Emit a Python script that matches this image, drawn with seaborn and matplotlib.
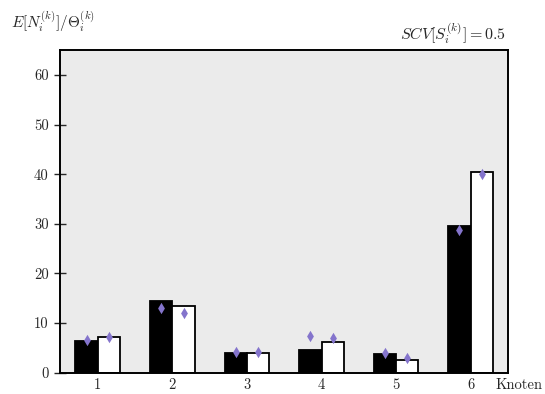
import matplotlib
matplotlib.use("Agg")
import matplotlib.pyplot as plt
import seaborn as sns
import pandas as pd

# Knoten (nodes) and the two compared series
knoten = ["1", "2", "3", "4", "5", "6"]
serien = ["I", "II"]
balken_I = [6.3, 14.5, 4.0, 4.6, 3.8, 29.6]
balken_II = [7.2, 13.5, 4.0, 6.1, 2.6, 40.4]
punkte_I = [6.6, 13.1, 4.2, 7.4, 4.0, 28.8]
punkte_II = [7.1, 12.0, 4.2, 7.0, 2.9, 40.0]
y_ticks = [0, 10, 20, 30, 40, 50, 60]

bars = pd.DataFrame({
    "Knoten": knoten * 2,
    "Serie": [serien[0]] * len(knoten) + [serien[1]] * len(knoten),
    "Wert": balken_I + balken_II,
})
points = pd.DataFrame({
    "Knoten": knoten * 2,
    "Serie": [serien[0]] * len(knoten) + [serien[1]] * len(knoten),
    "Wert": punkte_I + punkte_II,
})

sns.set_style("white")
plt.rcParams["font.family"] = ["cmr10", "DejaVu Serif"]
plt.rcParams["mathtext.fontset"] = "cm"
plt.rcParams["axes.formatter.use_mathtext"] = True
plt.rcParams["axes.unicode_minus"] = False

fig = plt.figure(figsize=(5.45, 3.94), dpi=100)
ax = fig.add_axes([0.111, 0.054, 0.821, 0.819])
ax.set_facecolor("#ebebeb")

sns.barplot(data=bars, x="Knoten", y="Wert", hue="Serie", order=knoten,
            hue_order=serien, palette={"I": "black", "II": "white"},
            width=0.6, edgecolor="black", linewidth=1.3, saturation=1,
            errorbar=None, legend=False, ax=ax)

mark = "#8474cc"
sns.pointplot(data=points, x="Knoten", y="Wert", hue="Serie", order=knoten,
              hue_order=serien, palette={"I": mark, "II": mark},
              dodge=0.3, markers="d", linestyle="none", errorbar=None,
              markersize=3, legend=False, ax=ax)

ax.set_xlim(-0.5, 5.5)
ax.set_ylim(0, 65)
ax.set_yticks(y_ticks)
ax.set_yticklabels([str(t) for t in y_ticks])
ax.set_xlabel("")
ax.set_ylabel("")

for s in ax.spines.values():
    s.set_visible(True)
    s.set_color("black")
    s.set_linewidth(1.4)

ax.tick_params(axis="y", direction="inout", length=9, width=1.0,
               labelsize=10.5, pad=4, left=True, right=False)
ax.tick_params(axis="x", length=0, labelsize=10.5, pad=4)

fig.text(11 / 545, 1 - 22 / 394, r"$E[N_i^{(k)}]/\Theta_i^{(k)}$",
         fontsize=11, ha="left", va="center")
fig.text(506 / 545, 1 - 34 / 394, r"$SCV[S_i^{(k)}] = 0.5$",
         fontsize=11.5, ha="right", va="center")
fig.text(495 / 545, 1 - 385 / 394, "Knoten", fontsize=10.5,
         ha="left", va="center")

fig.savefig("out.png", dpi=100, facecolor="white")
